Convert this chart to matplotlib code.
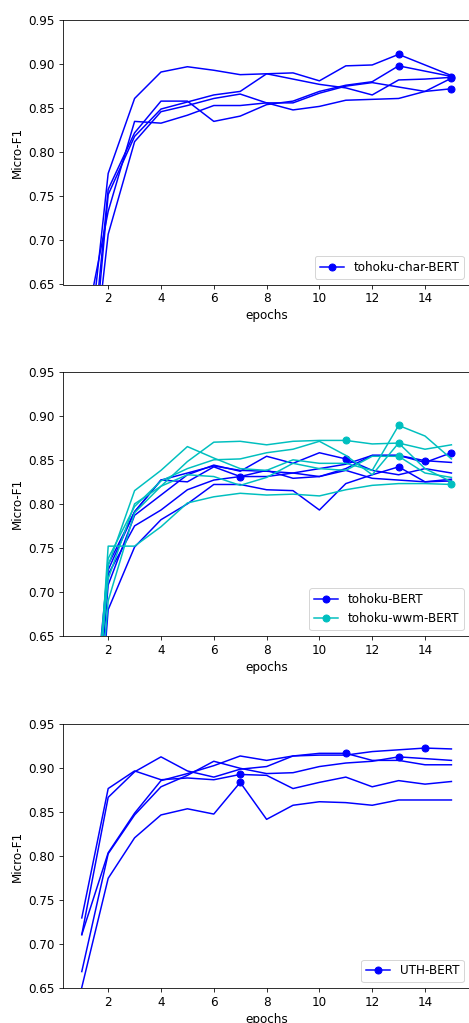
import matplotlib
matplotlib.use("Agg")
import matplotlib.pyplot as plt

epochs = list(range(1, 16))

# Panel 1: tohoku-char-BERT (5 runs)
char_runs = [
    [0.50, 0.776, 0.861, 0.891, 0.897, 0.893, 0.888, 0.889, 0.890, 0.881, 0.898, 0.899, 0.911, 0.899, 0.887],
    [0.42, 0.752, 0.818, 0.849, 0.857, 0.865, 0.869, 0.889, 0.883, 0.877, 0.873, 0.865, 0.882, 0.883, 0.885],
    [0.45, 0.758, 0.822, 0.858, 0.858, 0.835, 0.841, 0.854, 0.858, 0.869, 0.876, 0.880, 0.898, 0.892, 0.886],
    [0.58, 0.733, 0.835, 0.833, 0.842, 0.853, 0.853, 0.856, 0.848, 0.852, 0.859, 0.860, 0.861, 0.869, 0.872],
    [0.44, 0.707, 0.812, 0.846, 0.853, 0.861, 0.866, 0.856, 0.856, 0.867, 0.875, 0.879, 0.874, 0.869, 0.884],
]
char_best = [13, 15, 13, 15, 15]

# Panel 2: tohoku-BERT (5 runs)
tohoku_runs = [
    [0.40, 0.725, 0.791, 0.827, 0.835, 0.843, 0.838, 0.837, 0.835, 0.840, 0.845, 0.855, 0.855, 0.847, 0.858],
    [0.35, 0.708, 0.787, 0.810, 0.833, 0.844, 0.837, 0.854, 0.846, 0.858, 0.851, 0.838, 0.833, 0.840, 0.835],
    [0.30, 0.680, 0.751, 0.782, 0.800, 0.822, 0.822, 0.816, 0.815, 0.793, 0.823, 0.833, 0.842, 0.825, 0.826],
    [0.38, 0.720, 0.775, 0.793, 0.816, 0.827, 0.831, 0.838, 0.829, 0.831, 0.840, 0.855, 0.855, 0.849, 0.847],
    [0.42, 0.731, 0.791, 0.827, 0.825, 0.842, 0.831, 0.831, 0.835, 0.831, 0.838, 0.829, 0.827, 0.825, 0.828],
]
tohoku_best = [15, 11, 13, 14, 7]

# Panel 2: tohoku-wwm-BERT (5 runs)
wwm_runs = [
    [0.40, 0.715, 0.800, 0.820, 0.848, 0.870, 0.871, 0.867, 0.871, 0.872, 0.872, 0.868, 0.869, 0.862, 0.867],
    [0.35, 0.730, 0.815, 0.838, 0.865, 0.852, 0.840, 0.838, 0.850, 0.846, 0.846, 0.838, 0.889, 0.877, 0.851],
    [0.38, 0.738, 0.797, 0.826, 0.840, 0.850, 0.851, 0.858, 0.862, 0.871, 0.855, 0.833, 0.869, 0.840, 0.825],
    [0.33, 0.690, 0.790, 0.820, 0.833, 0.831, 0.821, 0.830, 0.846, 0.840, 0.838, 0.854, 0.854, 0.835, 0.830],
    [0.30, 0.752, 0.752, 0.774, 0.801, 0.808, 0.812, 0.810, 0.811, 0.809, 0.816, 0.821, 0.823, 0.823, 0.822],
]
wwm_best = [11, 13, 13, 13, 15]

# Panel 3: UTH-BERT (5 runs)
uth_runs = [
    [0.730, 0.877, 0.897, 0.887, 0.889, 0.887, 0.893, 0.892, 0.877, 0.884, 0.890, 0.879, 0.886, 0.882, 0.885],
    [0.711, 0.867, 0.896, 0.913, 0.897, 0.890, 0.899, 0.902, 0.914, 0.917, 0.917, 0.909, 0.909, 0.904, 0.904],
    [0.711, 0.804, 0.849, 0.886, 0.894, 0.903, 0.914, 0.909, 0.914, 0.915, 0.915, 0.919, 0.921, 0.923, 0.922],
    [0.669, 0.803, 0.847, 0.879, 0.892, 0.908, 0.900, 0.894, 0.895, 0.902, 0.906, 0.908, 0.913, 0.911, 0.909],
    [0.651, 0.775, 0.821, 0.847, 0.854, 0.848, 0.884, 0.842, 0.858, 0.862, 0.861, 0.858, 0.864, 0.864, 0.864],
]
uth_best = [7, 11, 14, 13, 7]

W, H = 469, 1023
DPI = 72
plt.rcParams['font.size'] = 12
plt.rcParams['xtick.major.size'] = 4
plt.rcParams['ytick.major.size'] = 4
plt.rcParams['ytick.major.pad'] = 5
fig = plt.figure(figsize=(W / DPI, H / DPI), dpi=DPI)

left_px, right_px = 63.3, 469.9
panels_px = [(20, 284.5), (371.7, 636), (724.3, 988.3)]


def make_ax(top, bottom):
    return fig.add_axes([left_px / W, (H - bottom) / H,
                         (right_px - left_px) / W, (bottom - top) / H])


def draw_runs(ax, runs, best, color, label):
    for i, (r, b) in enumerate(zip(runs, best)):
        ax.plot(epochs, r, color=color, marker='o', markersize=7,
                markevery=[epochs.index(b)], linewidth=1.5,
                label=label if i == 0 else None)


groups = [
    [(char_runs, char_best, 'b', 'tohoku-char-BERT')],
    [(tohoku_runs, tohoku_best, 'b', 'tohoku-BERT'),
     (wwm_runs, wwm_best, 'c', 'tohoku-wwm-BERT')],
    [(uth_runs, uth_best, 'b', 'UTH-BERT')],
]

for (top, bottom), grp in zip(panels_px, groups):
    ax = make_ax(top, bottom)
    for runs, best, color, label in grp:
        draw_runs(ax, runs, best, color, label)
    ax.set_xlim(0.3, 15.7)
    ax.set_ylim(0.65, 0.95)
    ax.set_xticks([2, 4, 6, 8, 10, 12, 14])
    ax.set_yticks([0.65, 0.70, 0.75, 0.80, 0.85, 0.90, 0.95])
    ax.set_xlabel('epochs')
    ax.set_ylabel('Micro-F1')
    ax.legend(loc='lower right')

fig.savefig('out.png', dpi=DPI)
